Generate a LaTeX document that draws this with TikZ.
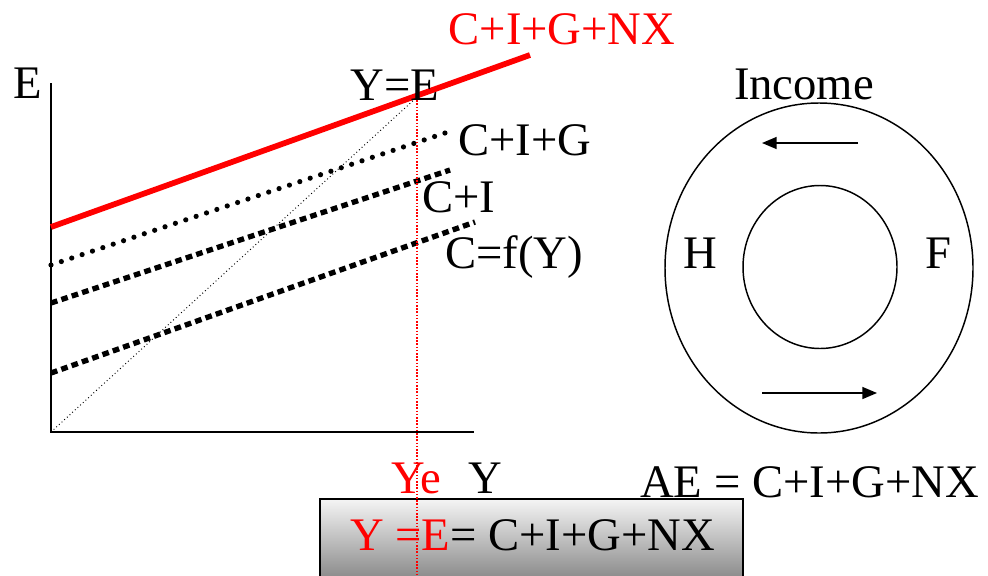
\documentclass[tikz,border=0pt]{standalone}
\usepackage{fontspec}
\setmainfont{Liberation Serif}
\usetikzlibrary{arrows.meta}
\begin{document}
\begin{tikzpicture}[x=0.75pt,y=-0.75pt,
  lbl/.style={inner sep=0pt, anchor=base, font=\fontsize{35}{40}\selectfont},
  lblw/.style={lbl, anchor=base west},
  axis/.style={line width=1.5pt},
  aeline/.style={red, line width=4.3pt},
  dotline/.style={line width=3.9pt, line cap=round, dash pattern=on 0pt off 8.2pt},
  dashline/.style={line width=4pt, dash pattern=on 5pt off 3.2pt},
  diag/.style={line width=0.7pt, dotted},
  eqline/.style={red, line width=1.1pt, dash pattern=on 1.2pt off 1.2pt},
  ring/.style={line width=1.1pt},
  flow/.style={line width=1.1pt, -{Triangle[length=11pt,width=9pt]}}]
\clip (0,0) rectangle (988,575);
\fill[white] (0,0) rectangle (988,575);
% box at the bottom
\shade[top color=white!96!black, bottom color=black!52, draw=black, line width=1.1pt]
  (320,499) rectangle (743,590);
% coordinates
\coordinate (O) at (51,432);
\coordinate (Etop) at (51,83);
\coordinate (Yend) at (474,432);
\coordinate (R1) at (51,227);
\coordinate (R2) at (530,55);
\coordinate (G1) at (51,265);
\coordinate (G2) at (445,133);
\coordinate (I1) at (51,303);
\coordinate (I2) at (450,170);
\coordinate (C1) at (51,373);
\coordinate (C2) at (475,222);
\coordinate (EQ) at (417,97);
\coordinate (EQb) at (417,580);
% axes
\draw[axis] (Etop) -- (O) -- (Yend);
% lines
\draw[diag] (O) -- (EQ);
\draw[dashline] (C1) -- (C2);
\draw[dashline] (I1) -- (I2);
\draw[dotline] (G1) -- (G2);
\draw[eqline] (EQ) -- (EQb);
\draw[aeline] (R1) -- (R2);
% labels
\node[lbl, red] (ae) at (562,44) {C+I+G+NX};
\node[lbl] (E) at (28,98) {E};
\node[lbl] (YE) at (395,100) {Y=E};
\node[lblw] (CIG) at (458,155) {C+I+G};
\node[lblw] (CI) at (422,212) {C+I};
\node[lblw] (CF) at (445,268) {C=f(Y)};
\node[lbl, red] (Ye) at (416,493) {Ye};
\node[lbl] (Y) at (485,493) {Y};
\node[lblw] (AE) at (640,497) {AE = C+I+G+NX};
\node[lblw] (eq) at (350,550) {\textcolor{red}{Y =E}= C+I+G+NX};
% circular flow
\draw[ring] (819,268) ellipse [x radius=154, y radius=165];
\draw[ring] (820,267) ellipse [x radius=77, y radius=81.5];
\node[lbl] (inc) at (804,99) {Income};
\node[lbl] (H) at (700,268) {H};
\node[lbl] (F) at (938,268) {F};
\coordinate (ta) at (858,143);
\coordinate (tb) at (762,143);
\coordinate (ba) at (762,393);
\coordinate (bb) at (877,393);
\draw[flow] (ta) -- (tb);
\draw[flow] (ba) -- (bb);
\end{tikzpicture}
\end{document}
